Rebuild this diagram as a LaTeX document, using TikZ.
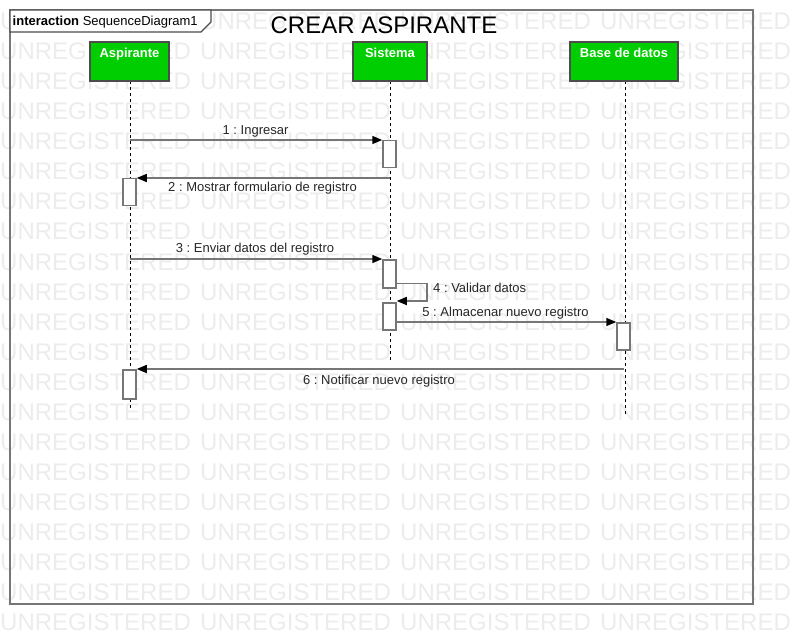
\documentclass[tikz,border=0pt]{standalone}
\usepackage{fontspec}
\setmainfont{Liberation Sans}
\usetikzlibrary{arrows.meta}
\definecolor{lifegreen}{RGB}{0,206,0}
\definecolor{framegray}{RGB}{118,118,118}
\definecolor{wmgray}{RGB}{236,236,236}
\frenchspacing
\begin{document}
\begin{tikzpicture}[x=1pt,y=-1pt,
	head/.style={draw=black!70,line width=1.5pt,fill=lifegreen,text=white,font=\fontsize{13}{15}\selectfont\bfseries,minimum width=#1,text height=16pt,text depth=23pt,inner sep=0pt},
	act/.style={draw=framegray,line width=1.5pt,fill=white,minimum width=13pt,minimum height=#1,inner sep=0pt,anchor=north},
	life/.style={black,line width=0.9pt,dash pattern=on 3pt off 3pt},
	msg/.style={framegray,line width=1.5pt,-{Triangle[length=10pt,width=8pt,color=black]}},
	lbl/.style={font=\fontsize{13}{15}\selectfont,text=black!85,inner sep=0pt,anchor=base}]
			\useasboundingbox (0,0) rectangle (794,644);
			
			%watermark
			\foreach \r in {0,...,20}{
				\foreach \c in {0,...,3}{
					\node[anchor=base west,inner sep=0pt,text=wmgray,font=\fontsize{24}{28}\selectfont] (wm-\r-\c) at (200*\c, 30+30*\r){UNREGISTERED};
				}
			}
			
			%frame
			\draw[framegray, line width=2pt] (10,10) rectangle (753,604);
			\draw[black!70, line width=1.2pt, fill=white] (10,10) -- (211,10) -- (211,22) -- (201,32) -- (10,32) -- cycle;
			\node[anchor=base west,inner sep=0pt,font=\fontsize{13}{15}\selectfont] (tag) at (12.5,25.5){\textbf{interaction} SequenceDiagram1};
			\node[anchor=base,inner sep=0pt,font=\fontsize{24}{28}\selectfont] (title) at (384,34){CREAR ASPIRANTE};
			
			%lifelines
			\coordinate (aspEnd) at (130,408);
			\coordinate (sisEnd) at (390,360);
			\coordinate (bdEnd) at (625,415);
			\draw[life] (130,81) -- (aspEnd);
			\draw[life] (390,81) -- (sisEnd);
			\draw[life] (625,81) -- (bdEnd);
			\node[head=79pt] (asp) at (129.5,61.5){Aspirante};
			\node[head=74pt] (sis) at (390,61.5){Sistema};
			\node[head=108pt] (bd) at (624,61.5){Base de datos};
			
			%activations
			\node[act=27pt] (actS1) at (389.5,140){};
			\node[act=27pt] (actA1) at (129.5,178){};
			\node[act=28pt] (actS2) at (389.5,259){};
			\node[act=27pt] (actS3) at (389.5,302){};
			\node[act=27pt] (actB) at (623.5,322){};
			\node[act=29pt] (actA2) at (129.5,369){};
			
			%messages
			\draw[msg] (asp |- actS1.north) -- (actS1.north west);
			\draw[msg] (sis |- actA1.north) -- (actA1.north east);
			\draw[msg] (asp |- actS2.north) -- (actS2.north west);
			\draw[msg] ([yshift=5pt]actS2.south east) -- ++(30,0) |- ([yshift=1pt]actS3.north east);
			\draw[msg] (actS3.east |- actB.north) -- (actB.north west);
			\draw[msg] (bd |- actA2.north) -- (actA2.north east);
			
			\node[lbl] (m1) at (255.5,134.5){1 : Ingresar};
			\node[lbl] (m2) at (262.5,191.5){2 : Mostrar formulario de registro};
			\node[lbl] (m3) at (255,252.5){3 : Enviar datos del registro};
			\node[lbl,anchor=base west] (m4) at (433,292.5){4 : Validar datos};
			\node[lbl] (m5) at (505.5,316){5 : Almacenar nuevo registro};
			\node[lbl] (m6) at (379,384.5){6 : Notificar nuevo registro};
		\end{tikzpicture}
\end{document}
